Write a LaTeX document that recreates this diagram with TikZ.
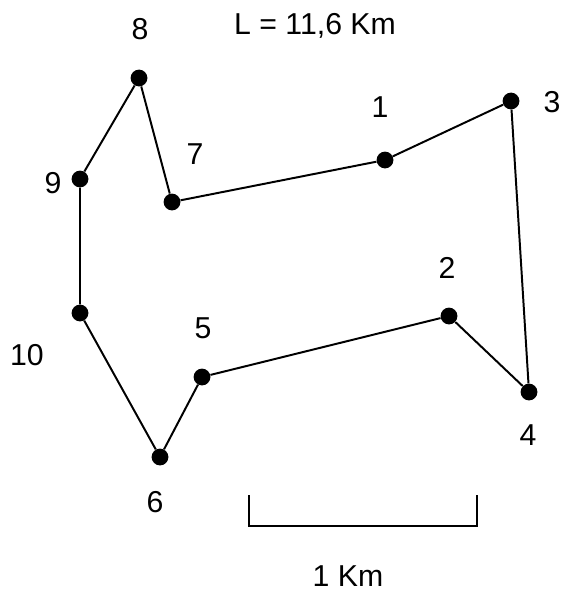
\documentclass[tikz,border=0pt]{standalone}
\usepackage{fontspec}
\setmainfont{Liberation Sans}
\tikzset{
  tdot/.style  ={circle,draw=none,fill=black,inner sep=0pt,minimum size=0.42cm},
  tedge/.style ={line width=1.4pt,line join=round},
  tlab/.style  ={inner sep=0pt,text depth=0pt,font=\fontsize{21.5}{24}\selectfont},
  sbar/.style  ={line width=1.2pt},
}
\begin{document}
\begin{tikzpicture}[x=0.025cm,y=-0.025cm]
  \useasboundingbox (0,0) rectangle (561,592);
  % stops of the tour
  \foreach \n/\x/\y in {1/385/160,2/449/316,3/511/101,4/529/392,5/202/377,
                        6/160/457,7/172/202,8/139/78,9/80/179,10/80/313}{
    \node[tdot] (p\n) at (\x,\y) {};
  }
  \foreach \n/\x/\y in {1/380/107,2/447/268,3/552/102,4/528/435,5/203/328,
                        6/155/502,7/195/154,8/140/29,9/53/183,10/27/355}{
    \node[tlab] (l\n) at (\x,\y) {\n};
  }
  \draw[tedge] (p1) -- (p3) -- (p4) -- (p2) -- (p5) -- (p6) -- (p10) -- (p9)
               -- (p8) -- (p7) -- (p1);
  \node[tlab] (len) at (315,24) {L = 11,6 Km};
  % scale bar
  \coordinate (sbl) at (249,495);
  \coordinate (sbr) at (477,495);
  \draw[sbar] (sbl) -- ++(0,31) -| (sbr);
  \node[tlab] (km) at (348,576) {1 Km};
\end{tikzpicture}
\end{document}
